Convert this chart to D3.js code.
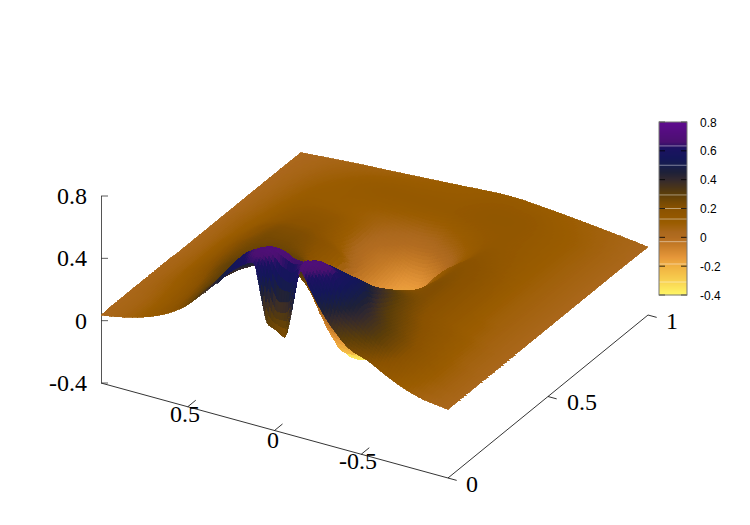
<!DOCTYPE html>
<html>
<head>
<meta charset="utf-8">
<script src="https://d3js.org/d3.v7.min.js"></script>
<style>
  html, body { margin: 0; padding: 0; background: #fff; }
  svg { display: block; }
</style>
</head>
<body>
<svg id="chart" width="750" height="525"></svg>
<script>
// grid, finer around the ridge and the notch
const xValues = [1, .88, .76, .64, .52, .42, .32, .22, .12, .08, .04, 0, -.06, -.1, -.15, -.2, -.27, -.34, -.44, -.54, -.64, -.74, -.86, -1];
const yValues = [0, .015, .03, .05, .08, .11, .16, .22, .28, .34, .38, .43, .5, .57, .65, .75, .85, 1];
const zValues = [
  [.035,.06,.096,.15,.235,.345,.46,.575,.64,.45,.27,.25,.215,.40,.67,.58,.45,.35,.25,.21,.15,.10,.06,.04],
  [.035,.06,.098,.155,.24,.35,.465,.585,.66,.60,.42,.34,.36,.52,.70,.64,.52,.38,.29,.24,.17,.11,.06,.04],
  [.04,.06,.10,.16,.245,.35,.48,.60,.68,.68,.62,.55,.53,.62,.70,.69,.60,.44,.35,.27,.19,.12,.07,.04],
  [.04,.06,.10,.16,.25,.35,.49,.62,.685,.70,.70,.69,.66,.655,.68,.69,.66,.50,.39,.30,.21,.13,.07,.04],
  [.04,.06,.10,.165,.255,.35,.48,.58,.64,.65,.65,.63,.60,.62,.65,.645,.62,.54,.40,.30,.22,.14,.08,.04],
  [.04,.06,.105,.17,.26,.34,.44,.53,.60,.60,.59,.57,.55,.58,.60,.60,.57,.55,.38,.29,.22,.15,.08,.04],
  [.04,.065,.11,.18,.27,.33,.39,.45,.50,.50,.49,.47,.46,.48,.50,.51,.50,.48,.33,.26,.20,.14,.08,.04],
  [.04,.07,.12,.20,.28,.32,.35,.37,.36,.35,.33,.31,.30,.31,.33,.35,.37,.39,.29,.23,.18,.13,.07,.04],
  [.04,.07,.13,.21,.27,.30,.31,.29,.17,.12,.06,.02,.02,.05,.12,.19,.27,.315,.26,.20,.16,.12,.07,.04],
  [.04,.07,.13,.21,.26,.28,.28,.26,-.05,-.14,-.20,-.25,-.25,-.20,-.10,0,.14,.245,.23,.19,.14,.10,.065,.04],
  [.035,.07,.13,.21,.25,.26,.25,.19,-.15,-.24,-.28,-.30,-.28,-.22,-.12,-.03,.08,.205,.22,.19,.14,.10,.065,.04],
  [.035,.07,.13,.20,.24,.24,.22,.12,-.25,-.36,-.39,-.39,-.36,-.28,-.18,-.08,.04,.16,.22,.19,.14,.09,.065,.04],
  [.035,.07,.12,.19,.22,.22,.20,.14,-.12,-.22,-.27,-.30,-.30,-.25,-.16,-.06,.05,.13,.21,.19,.14,.09,.065,.04],
  [.035,.07,.11,.16,.19,.19,.14,.04,-.07,-.11,-.15,-.20,-.22,-.19,-.12,-.03,.07,.14,.20,.18,.135,.09,.065,.04],
  [.035,.065,.10,.14,.16,.155,.10,0,-.05,-.08,-.11,-.14,-.15,-.13,-.09,-.03,.05,.11,.175,.155,.12,.09,.065,.04],
  [.035,.06,.09,.115,.115,.105,.085,.055,.03,.02,.015,.02,.03,.05,.07,.09,.115,.135,.15,.135,.115,.09,.065,.04],
  [.035,.055,.08,.10,.115,.125,.13,.13,.13,.13,.13,.13,.135,.14,.145,.15,.155,.155,.15,.13,.11,.09,.065,.04],
  [.033,.043,.053,.063,.07,.077,.084,.091,.098,.101,.104,.108,.112,.115,.118,.119,.118,.112,.103,.093,.082,.07,.055,.036]
];

const xTicks = [.5, 0, -.5];
const yTicks = [0, .5, 1];
const zTicks = [-.4, 0, .4, .8];
const cbTicks = [-.4, -.2, 0, .2, .4, .6, .8];
const cbStreaks = [.634, .5, .294, .2, .127, -.03, -.185, -.31];

const paletteStops = [-.4, -.3, -.2, -.14, -.05, 0, .035, .1, .2, .3, .4, .45, .5, .55, .62, .66, .8];
const paletteColors = ["#fff766", "#f8d050", "#f0b040", "#e6973a", "#c47a26", "#b26c20", "#ab681d", "#9a5c00", "#8a5200", "#5c3e08", "#33292e", "#1e2138", "#161c4c", "#14165a", "#1c1262", "#4a1070", "#5f0a8f"];
const color = d3.scaleLinear().domain(paletteStops).range(paletteColors).clamp(true);

const svg = d3.select("#chart");

// oblique axes: every point is origin + x part + y part + z part
const xToScreenX = d3.scaleLinear().domain([1, -1]).range([101, 448]);
const xToScreenY = d3.scaleLinear().domain([1, -1]).range([383, 478]);
const yToScreenX = d3.scaleLinear().domain([0, 1]).range([0, 200]);
const yToScreenY = d3.scaleLinear().domain([0, 1]).range([0, -163]);
const zToScreen = d3.scaleLinear().domain([-.4, .8]).range([0, -187]);

const baseY = (x, y) => xToScreenY(x) + yToScreenY(y);
const project = (x, y, z) => [xToScreenX(x) + yToScreenX(y), baseY(x, y) + zToScreen(z)];

// smooth hermite through one column or row of read values, for drawing only
function smooth(ts, vs, t) {
  let i = d3.bisectRight(ts, t) - 1;
  i = Math.max(0, Math.min(ts.length - 2, i));
  const h = ts[i + 1] - ts[i];
  const slope = k => (vs[k + 1] - vs[k]) / (ts[k + 1] - ts[k]);
  const tangent = k => {
    if (k === 0) return slope(0);
    if (k === ts.length - 1) return slope(k - 1);
    const a = slope(k - 1), b = slope(k);
    if (a * b <= 0) return 0;
    return 2 * a * b / (a + b);
  };
  const s = (t - ts[i]) / h;
  const m0 = tangent(i) * h, m1 = tangent(i + 1) * h;
  return (2*s*s*s - 3*s*s + 1) * vs[i] + (s*s*s - 2*s*s + s) * m0 + (-2*s*s*s + 3*s*s) * vs[i + 1] + (s*s*s - s*s) * m1;
}

function refine(ts, step) {
  const out = [];
  for (let i = 0; i < ts.length - 1; i++) {
    const n = Math.max(3, Math.ceil(Math.abs(ts[i + 1] - ts[i]) / step));
    for (let k = 0; k < n; k++) out.push(ts[i] + (ts[i + 1] - ts[i]) * k / n);
  }
  out.push(ts[ts.length - 1]);
  return out;
}

const uKnots = xValues.map(x => (1 - x) / 2);
const fineU = refine(uKnots, .008);
const fineY = refine(yValues, .008);

// rows first, then columns
const rowFine = zValues.map(row => fineU.map(u => smooth(uKnots, row, u)));
const zFine = fineY.map(y => fineU.map((u, j) => smooth(yValues, rowFine.map(r => r[j]), y)));

const quads = [];
for (let r = 0; r < fineY.length - 1; r++) {
  for (let c = 0; c < fineU.length - 1; c++) {
    const x0 = 1 - 2 * fineU[c], x1 = 1 - 2 * fineU[c + 1];
    const y0 = fineY[r], y1 = fineY[r + 1];
    const zz = [zFine[r][c], zFine[r][c + 1], zFine[r + 1][c + 1], zFine[r + 1][c]];
    quads.push({
      pts: [project(x0, y0, zz[0]), project(x1, y0, zz[1]), project(x1, y1, zz[2]), project(x0, y1, zz[3])],
      depth: baseY((x0 + x1) / 2, (y0 + y1) / 2),
      z: d3.mean(zz)
    });
  }
}
quads.sort((a, b) => a.depth - b.depth);

// axes
const frame = svg.append("g").attr("fill", "none").attr("stroke", "#000").attr("stroke-width", .8);
frame.append("path").attr("d", d3.line()([project(1, 0, -.4), project(-1, 0, -.4), project(-1, 1, -.4)]));
frame.append("path").attr("d", d3.line()([[101.5, 383], [101.5, 196]])).attr("stroke", "#555").attr("stroke-width", 1);

zTicks.forEach(t => {
  frame.append("line").attr("x1", 101).attr("x2", 108)
    .attr("y1", 383 + zToScreen(t)).attr("y2", 383 + zToScreen(t)).attr("stroke", "#333");
});
xTicks.forEach(t => {
  const a = project(t, 0, -.4), b = project(t, .04, -.4);
  frame.append("line").attr("x1", a[0]).attr("y1", a[1]).attr("x2", b[0]).attr("y2", b[1]);
});
yTicks.forEach(t => {
  const a = project(-1, t, -.4), b = project(-.95, t, -.4);
  frame.append("line").attr("x1", a[0]).attr("y1", a[1]).attr("x2", 2 * a[0] - b[0]).attr("y2", 2 * a[1] - b[1]);
});

// surface
svg.append("g").attr("shape-rendering", "crispEdges").selectAll("path").data(quads).join("path")
  .attr("d", d => d3.line()(d.pts) + "Z")
  .attr("fill", d => color(d.z))
  .attr("stroke", d => color(d.z))
  .attr("stroke-width", .8);

// tick labels
const serif = svg.append("g").attr("font-family", "'Liberation Serif', serif").attr("font-size", 24).attr("fill", "#000");
zTicks.forEach(t => {
  serif.append("text").attr("x", 87).attr("y", 383 + zToScreen(t) + 8)
    .attr("text-anchor", "end").text(t);
});
const xLabelPos = [[185, 422], [273, 448], [358, 469]];
xTicks.forEach((t, i) => {
  serif.append("text").attr("x", xLabelPos[i][0]).attr("y", xLabelPos[i][1]).attr("text-anchor", "middle").text(t);
});
const yLabelPos = [[472, 492], [582, 410], [672, 329]];
yTicks.forEach((t, i) => {
  serif.append("text").attr("x", yLabelPos[i][0]).attr("y", yLabelPos[i][1]).attr("text-anchor", "middle").text(t);
});

// colour box
const cb = d3.scaleLinear().domain([-.4, .8]).range([295, 122]);
const cbGroup = svg.append("g");
d3.range(122, 295).forEach(py => {
  cbGroup.append("rect").attr("x", 659).attr("width", 28).attr("y", py).attr("height", 1.2)
    .attr("fill", color(cb.invert(py + .5)));
});
cbStreaks.forEach(t => {
  cbGroup.append("line").attr("x1", 659).attr("x2", 687).attr("y1", cb(t)).attr("y2", cb(t))
    .attr("stroke", "#fff").attr("stroke-opacity", .45).attr("stroke-width", 1);
});
cbTicks.forEach(t => {
  [[659, 665], [681, 687]].forEach(p => {
    cbGroup.append("line").attr("x1", p[0]).attr("x2", p[1]).attr("y1", cb(t)).attr("y2", cb(t))
      .attr("stroke", "#000").attr("stroke-width", .8);
  });
  cbGroup.append("text").attr("x", 700).attr("y", cb(t) + 4.5)
    .attr("font-family", "'Liberation Sans', sans-serif").attr("font-size", 12).text(t);
});
cbGroup.append("rect").attr("x", 659).attr("y", 122).attr("width", 28).attr("height", 173)
  .attr("fill", "none").attr("stroke", "#777").attr("stroke-width", 1);
</script>
</body>
</html>
